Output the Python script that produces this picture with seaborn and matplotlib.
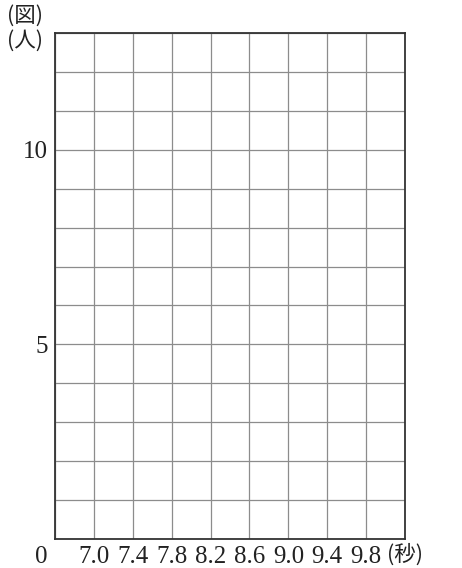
import matplotlib
matplotlib.use("Agg")
import matplotlib.pyplot as plt
import seaborn as sns
import pandas as pd
import numpy as np

# Data (blank histogram grid)
x_ticks = [7.0, 7.4, 7.8, 8.2, 8.6, 9.0, 9.4, 9.8]
x_tick_labels = ["7.0", "7.4", "7.8", "8.2", "8.6", "9.0", "9.4", "9.8"]
x_min, x_max = 6.6, 10.2
x_grid = [6.6, 7.0, 7.4, 7.8, 8.2, 8.6, 9.0, 9.4, 9.8, 10.2]
y_ticks = [5, 10]
y_tick_labels = ["5", "10"]
y_max = 13
y_grid = list(range(0, 14))
x_unit = "(秒)"
y_unit = "(人)"
fig_label = "(図)"

sns.set_style("white")
plt.rcParams['font.family'] = ['Liberation Serif', 'Noto Sans CJK JP', 'DejaVu Sans']

fig = plt.figure(figsize=(4.62, 5.68), dpi=100)
ax = fig.add_axes([55/462, 1 - 539/568, 350/462, 506/568])

df = pd.DataFrame({"x": pd.Series([], dtype=float), "y": pd.Series([], dtype=float)})
sns.lineplot(data=df, x="x", y="y", ax=ax)

ax.set_xlim(x_min, x_max)
ax.set_ylim(0, y_max)

for xv in x_grid:
    ax.axvline(xv, color="#8c8c8c", lw=0.9, zorder=1)
for yv in y_grid:
    ax.axhline(yv, color="#8c8c8c", lw=0.9, zorder=1)

for s in ax.spines.values():
    s.set_visible(True)
    s.set_color("#333333")
    s.set_linewidth(1.3)

fs = 18
cjk = ['Noto Sans CJK JP', 'DejaVu Sans']
cfs = 15.5
ax.set_xticks(x_ticks)
ax.set_xticklabels(x_tick_labels, fontsize=fs)
ax.set_yticks(y_ticks)
ax.set_yticklabels(y_tick_labels, fontsize=fs)
ax.tick_params(axis="y", length=0, pad=5, colors="#222222")
ax.tick_params(axis="x", length=0, pad=5, colors="#222222")
ax.set_xlabel("")
ax.set_ylabel("")

fig.text(48/462, 1 - 546/568, "0", fontsize=fs, ha="right", va="top", color="#222222")
fig.text(405/462, 1 - 555/568, x_unit, fontsize=cfs, ha="center", va="center", color="#222222",
         family=cjk)
fig.text(25/462, 1 - 15.5/568, fig_label, fontsize=cfs, ha="center", va="center", color="#222222",
         family=cjk)
fig.text(25/462, 1 - 41/568, y_unit, fontsize=cfs, ha="center", va="center", color="#222222",
         family=cjk)

fig.savefig("out.png", dpi=100)
